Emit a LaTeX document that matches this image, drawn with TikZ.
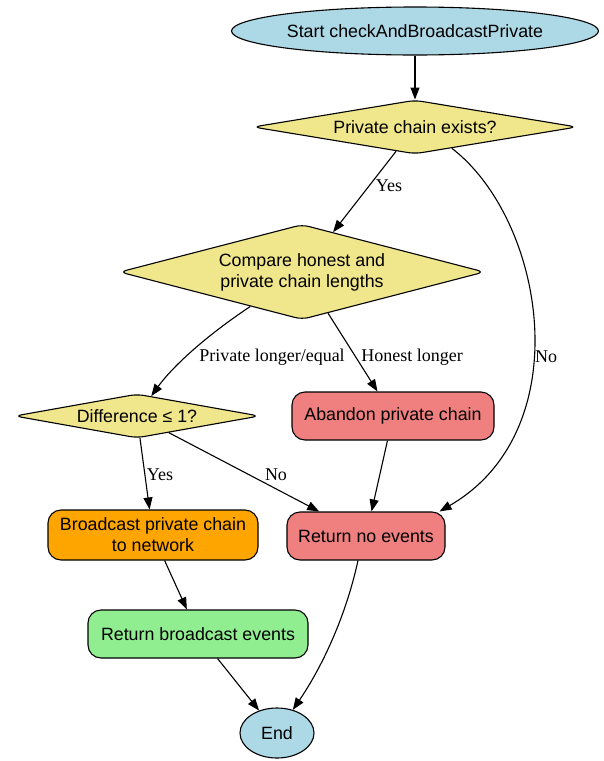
\documentclass[tikz,border=0pt]{standalone}
\usepackage{fontspec}
\setmainfont{Liberation Serif}
\newfontfamily\nodefont{Liberation Sans}
\usetikzlibrary{shapes.geometric,arrows.meta}
\definecolor{cblue}{HTML}{ADD8E6}
\definecolor{ckhaki}{HTML}{F0E68C}
\definecolor{ccoral}{HTML}{F08080}
\definecolor{corange}{HTML}{FFA500}
\definecolor{cgreen}{HTML}{90EE90}
\tikzset{
  base/.style={draw=black, line width=1.1pt, font=\nodefont\fontsize{17.8}{21}\selectfont, align=center, inner sep=0pt},
  oval/.style={base, ellipse, fill=cblue},
  decision/.style={base, diamond, fill=ckhaki, rounded corners=7pt, aspect=4},
  proc/.style={base, rectangle, rounded corners=13pt},
  lbl/.style={font=\fontsize{18}{21}\selectfont, inner sep=1pt},
  arr/.style={line width=1.1pt, -{Triangle[length=12pt,width=9pt]}}
}
\begin{document}
\begin{tikzpicture}[x=1pt,y=-1pt]
\useasboundingbox (0,0) rectangle (603,761);
\node[oval, minimum width=367pt, minimum height=48pt] (start) at (415,31) {Start checkAndBroadcastPrivate};
\node[decision, minimum width=324pt, minimum height=47pt] (d1) at (415,127) {Private chain exists?};
\node[decision, minimum width=365pt, minimum height=95pt] (d2) at (302,272) {Compare honest and\\private chain lengths};
\node[decision, minimum width=245pt, minimum height=44pt] (d3) at (137,416) {Difference ≤ 1?};
\node[proc, fill=ccoral, minimum width=202pt, minimum height=48pt] (ab) at (393,416) {Abandon private chain};
\node[proc, fill=corange, minimum width=210pt, minimum height=50pt] (bc) at (153,535) {Broadcast private chain\\to network};
\node[proc, fill=ccoral, minimum width=158pt, minimum height=48pt] (rne) at (366,536) {Return no events};
\node[proc, fill=cgreen, minimum width=220pt, minimum height=48pt] (rbe) at (198,634) {Return broadcast events};
\node[oval, minimum width=74pt, minimum height=50pt] (end) at (277,733) {End};

\draw[arr] (start) -- (d1);
\draw[arr] (d1) -- (d2);
\draw[arr] (d1.-30) .. controls (545,220) and (580,430) .. ([xshift=-6pt]rne.north east);
\draw[arr] (d2) .. controls (200,340) and (170,370) .. (d3);
\draw[arr] (d2) -- (ab);
\draw[arr] (d3) -- (bc);
\draw[arr] (d3) -- (rne);
\draw[arr] (ab) -- (rne);
\draw[arr] (bc) -- (rbe);
\draw[arr] ([xshift=-8pt]rne.south) .. controls (345,620) and (320,670) .. (end);
\draw[arr] (rbe) -- (end);

\node[lbl] (l1) at (389,186) {Yes};
\node[lbl] (l2) at (546,357) {No};
\node[lbl] (l3) at (272,357) {Private longer/equal};
\node[lbl] (l4) at (412,357) {Honest longer};
\node[lbl] (l5) at (160,475) {Yes};
\node[lbl] (l6) at (276,475) {No};
\end{tikzpicture}
\end{document}
